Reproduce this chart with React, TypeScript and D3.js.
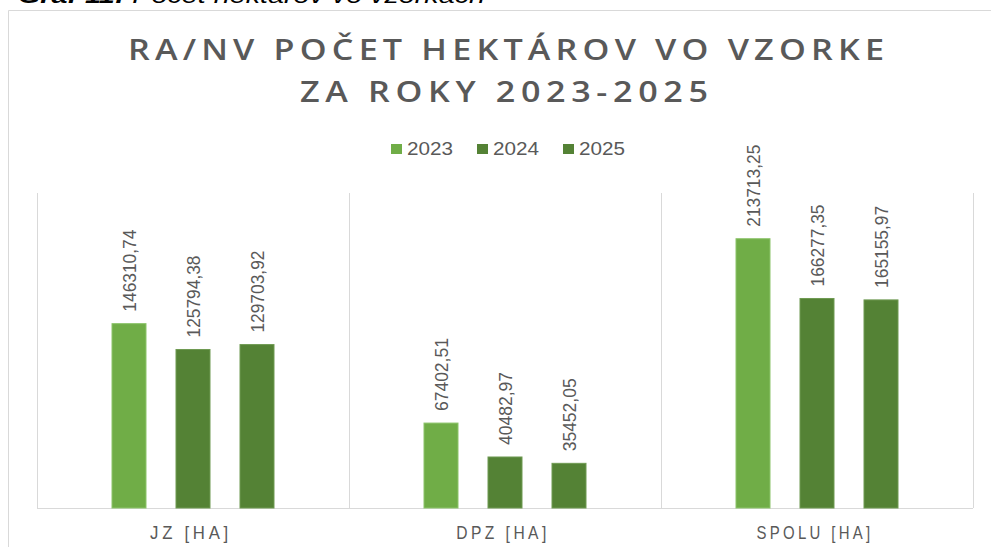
import React from "react";
import * as d3 from "d3";

const categories = ["JZ [HA]", "DPZ [HA]", "SPOLU [HA]"];
const years = ["2023", "2024", "2025"];
const values2023 = [146310.74, 67402.51, 213713.25];
const values2024 = [125794.38, 40482.97, 166277.35];
const values2025 = [129703.92, 35452.05, 165155.97];
const labels2023 = ["146310,74", "67402,51", "213713,25"];
const labels2024 = ["125794,38", "40482,97", "166277,35"];
const labels2025 = ["129703,92", "35452,05", "165155,97"];
const titleLines = ["RA/NV POČET HEKTÁROV VO VZORKE", "ZA ROKY 2023-2025"];
const caption = "Graf 11: Počet hektárov vo vzorkách";

const colors = ["#70AD47", "#548235", "#548235"];
const strokes = ["#8cc46a", "#6f9a52", "#6f9a52"];

export default function App() {
  const W = 991, H = 547;
  const left = 37, right = 973, top = 193, bottom = 508;
  const series = [values2023, values2024, values2025];
  const labels = [labels2023, labels2024, labels2025];

  const x0 = d3.scaleBand<string>().domain(categories).range([left, right]).padding(0);
  const x1 = d3.scaleBand<string>().domain(years).range([75, 237]).paddingInner(30 / 64).paddingOuter(0);
  const y = d3.scaleLinear().domain([0, 250000]).range([bottom, top]);

  const gray = "#595959";
  const grid = "#d9d9d9";
  const sans = "'Liberation Sans', Arial, sans-serif";
  const titleFont = "'Open Sans', 'DejaVu Sans', sans-serif";
  const sx = 1.22;

  return (
    <svg width={W} height={H} style={{ position: "absolute", left: 0, top: 0, background: "#fff" }}>
      <text x={18} y={3} fontFamily={sans} fontSize={22} fontStyle="italic" fill="#000" textLength={467} lengthAdjust="spacingAndGlyphs">
        <tspan fontWeight="bold">Graf 11:</tspan> Počet hektárov vo vzorkách
      </text>
      {/* outer frame */}
      <line x1={8.5} y1={10.5} x2={W} y2={10.5} stroke={grid} />
      <line x1={8.5} y1={10.5} x2={8.5} y2={H} stroke={grid} />

      {/* title */}
      <g transform={`scale(${sx},1)`}>
        <text x={506 / sx} y={60} textAnchor="middle" fontFamily={titleFont} fontWeight={600} fontSize={28} fill={gray} textLength={756 / sx} lengthAdjust="spacing">
          {titleLines[0]}
        </text>
        <text x={504 / sx} y={102} textAnchor="middle" fontFamily={titleFont} fontWeight={600} fontSize={28} fill={gray} textLength={408 / sx} lengthAdjust="spacing">
          {titleLines[1]}
        </text>
      </g>

      {/* legend */}
      {years.map((yr, i) => (
        <g key={yr} transform={`translate(${391 + i * 86},0)`}>
          <rect x={0} y={144} width={11} height={10} fill={colors[i]} />
          <text x={16} y={155} fontFamily={sans} fontSize={18} fill={gray} textLength={46} lengthAdjust="spacingAndGlyphs">{yr}</text>
        </g>
      ))}

      {/* grid */}
      {[...categories.map((c) => x0(c)!), right].map((gx, i) => (
        <line key={i} x1={gx + 0.5} x2={gx + 0.5} y1={top} y2={bottom} stroke={grid} strokeWidth={1} />
      ))}
      <line x1={left} x2={right} y1={bottom + 0.5} y2={bottom + 0.5} stroke={grid} />

      {/* bars */}
      {categories.map((c, ci) => (
        <g key={c} transform={`translate(${x0(c)},0)`}>
          {years.map((yr, si) => {
            const v = series[si][ci];
            const bx = x1(yr)!;
            const bw = x1.bandwidth();
            const by = y(v);
            const cx = bx + bw / 2 + 1;
            const ly = by - 12;
            return (
              <g key={yr}>
                <rect x={bx} y={by} width={bw} height={bottom - by} fill={colors[si]} stroke={strokes[si]} strokeWidth={1} />
                <text transform={`translate(${cx + 6},${ly}) rotate(-90)`} fontFamily={sans} fontSize={18} fill={gray}
                  textLength={labels[si][ci].length === 9 ? 82 : 73} lengthAdjust="spacingAndGlyphs">
                  {labels[si][ci]}
                </text>
              </g>
            );
          })}
          <text x={x0.bandwidth() / 2 - 2} y={539} textAnchor="middle" fontFamily={sans} fontSize={18} fill={gray}
            textLength={c.length * 11.7} lengthAdjust="spacingAndGlyphs" letterSpacing={4}>
            {c}
          </text>
        </g>
      ))}
    </svg>
  );
}
